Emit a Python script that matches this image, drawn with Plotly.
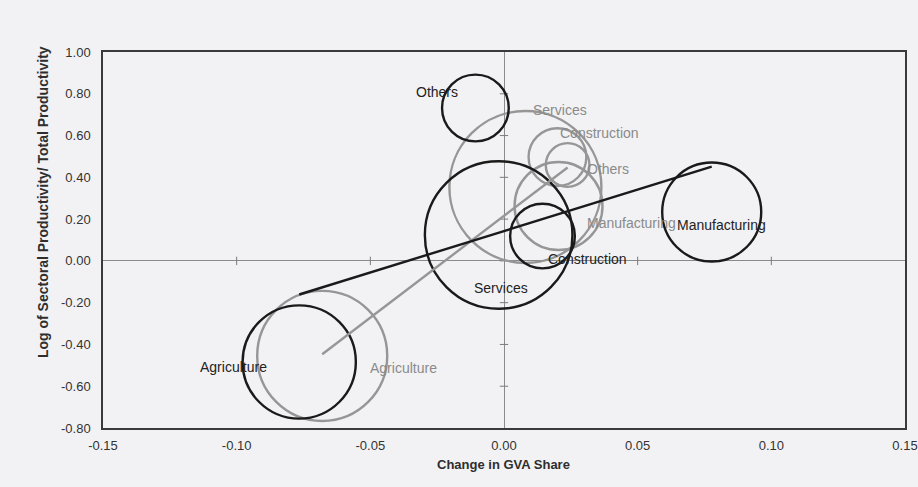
import numpy as np
import plotly.graph_objects as go

# Sectors and their position in the two periods
sectors_a = ["Agriculture", "Services", "Construction", "Manufacturing", "Others"]
gva_change_a = [-0.0766, -0.0020, 0.0144, 0.0777, -0.0107]
log_prod_a = [-0.484, 0.124, 0.119, 0.234, 0.732]
share_a = [24.2, 41.1, 7.9, 18.5, 8.4]

sectors_b = ["Agriculture", "Services", "Construction", "Others", "Manufacturing"]
gva_change_b = [-0.0680, 0.0080, 0.0200, 0.0238, 0.0204]
log_prod_b = [-0.455, 0.354, 0.497, 0.459, 0.263]
share_b = [31.9, 43.6, 6.3, 3.6, 14.6]

# Label positions (data coordinates) for each bubble
label_x_a = [-0.1013, -0.0013, 0.0313, 0.0815, -0.0250]
label_y_a = [-0.508, -0.130, 0.009, 0.172, 0.810]
label_x_b = [-0.0376, 0.0208, 0.0358, 0.0388, 0.0478]
label_y_b = [-0.513, 0.722, 0.612, 0.440, 0.181]

x_ticks = [-0.15, -0.10, -0.05, 0.00, 0.05, 0.10, 0.15]
y_ticks = [-0.80, -0.60, -0.40, -0.20, 0.00, 0.20, 0.40, 0.60, 0.80, 1.00]
x_ticktext = [f"{v:.2f}" for v in x_ticks]
y_ticktext = [f"{v:.2f}" for v in y_ticks]

DARK = "#1a1a1a"
GREY = "#969696"
BG = "#f2f2f4"
FONT = "Liberation Sans, Arial, sans-serif"

max_radius_px = 76
sizeref = max(share_a + share_b) / 2.0 / max_radius_px ** 2

fig = go.Figure()


def trend(xs, ys):
    xs = np.asarray(xs)
    ys = np.asarray(ys)
    k, b = np.polyfit(xs, ys, 1)
    xe = np.array([xs.min(), xs.max()])
    return xe, k * xe + b


# small tick marks on the axes that cross at zero
inner_x = [v for v in x_ticks if v not in (x_ticks[0], 0.0, x_ticks[-1])]
inner_y = [v for v in y_ticks if v not in (y_ticks[0], y_ticks[-1])]
fig.add_trace(go.Scatter(
    x=inner_x, y=[0] * len(inner_x),
    mode="markers", hoverinfo="skip",
    marker=dict(symbol="line-ns", size=6, opacity=1,
                line=dict(width=1, color="#7a7a7a")),
))
fig.add_trace(go.Scatter(
    x=[0] * len(inner_y), y=inner_y,
    mode="markers", hoverinfo="skip",
    marker=dict(symbol="line-ew", size=6, opacity=1,
                line=dict(width=1, color="#7a7a7a")),
))

for xs, ys, sz, col in [
    (gva_change_b, log_prod_b, share_b, GREY),
    (gva_change_a, log_prod_a, share_a, DARK),
]:
    fig.add_trace(go.Scatter(
        x=xs, y=ys, mode="markers", hoverinfo="skip",
        marker=dict(size=sz, sizemode="area", sizeref=sizeref, opacity=1,
                    color="rgba(0,0,0,0)", line=dict(width=2.4, color=col)),
    ))

for xs, ys, col in [
    (gva_change_b, log_prod_b, GREY),
    (gva_change_a, log_prod_a, DARK),
]:
    lx, ly = trend(xs, ys)
    fig.add_trace(go.Scatter(x=lx, y=ly, mode="lines", hoverinfo="skip",
                             line=dict(color=col, width=2.4)))

annotations = []
for names, lx, ly, col in [
    (sectors_b, label_x_b, label_y_b, "#8a8a8a"),
    (sectors_a, label_x_a, label_y_a, "#222222"),
]:
    for n, x, y in zip(names, lx, ly):
        annotations.append(dict(x=x, y=y, xref="x", yref="y", text=n,
                                showarrow=False, xanchor="center", yanchor="middle",
                                font=dict(family=FONT, size=14, color=col)))

annotations.append(dict(
    text="<b>Log of Sectoral Productivity/ Total Productivity</b>",
    xref="paper", yref="paper", x=-0.0748, y=0.601, textangle=-90,
    showarrow=False, xanchor="center", yanchor="middle",
    font=dict(family=FONT, size=14, color="#2e2e2e"),
))
annotations.append(dict(
    text="<b>Change in GVA Share</b>",
    xref="paper", yref="paper", x=0.499, y=-0.097,
    showarrow=False, xanchor="center", yanchor="middle",
    font=dict(family=FONT, size=13, color="#2e2e2e"),
))

axis_common = dict(
    showgrid=False, zeroline=True, zerolinecolor="#8a8a8a", zerolinewidth=1,
    showline=True, mirror=True, linecolor="#3a3a3a", linewidth=1.5,
    ticks="", automargin=False,
    tickfont=dict(family=FONT, size=13, color="#333333"),
)

fig.update_layout(
    width=918, height=487,
    margin=dict(l=103, r=13, t=52, b=59),
    paper_bgcolor=BG, plot_bgcolor=BG,
    showlegend=False,
    annotations=annotations,
    xaxis=dict(range=[-0.15, 0.15], tickvals=x_ticks, ticktext=x_ticktext,
               ticklabelstandoff=5, **axis_common),
    yaxis=dict(range=[-0.80, 1.00], tickvals=y_ticks, ticktext=y_ticktext,
               ticklabelstandoff=8, **axis_common),
)

fig.write_html("out.html")
